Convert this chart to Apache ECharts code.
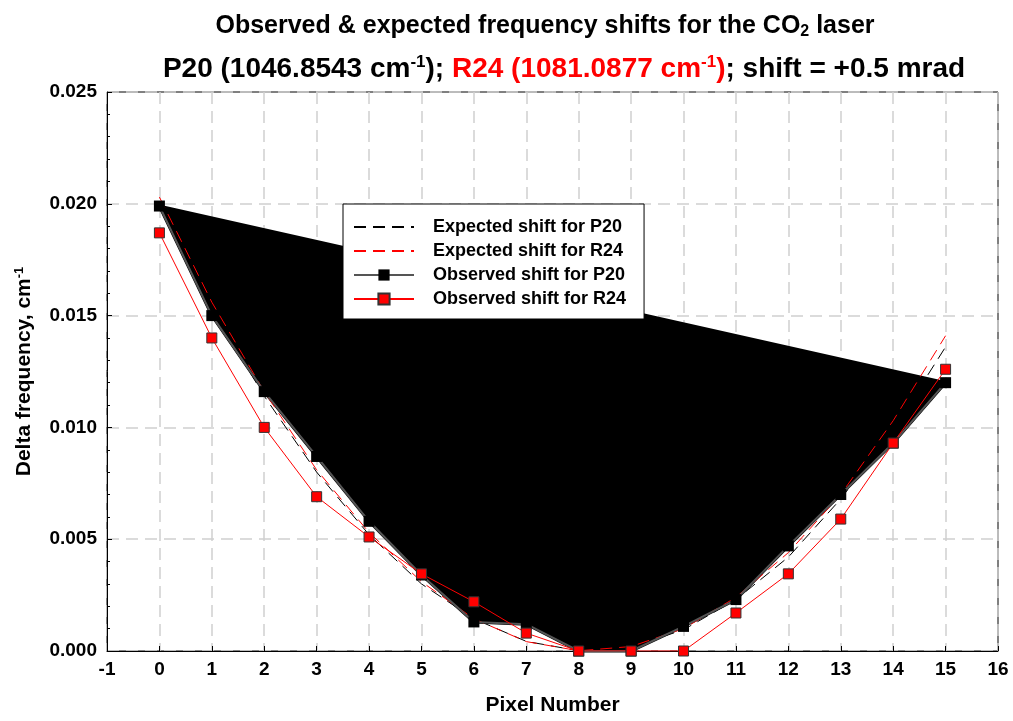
<!DOCTYPE html>
<html>
<head>
<meta charset="utf-8">
<script src="https://cdn.jsdelivr.net/npm/echarts@6/dist/echarts.min.js"></script>
<style>
  html, body { margin: 0; padding: 0; background: #fff; }
  #chart { width: 1013px; height: 721px; }
</style>
</head>
<body>
<div id="chart"></div>
<script>
// pixel numbers on the detector
const pixels = [0, 1, 2, 3, 4, 5, 6, 7, 8, 9, 10, 11, 12, 13, 14, 15];
// expected shifts (cm-1)
const expP20 = [0.0199, 0.0153, 0.0114, 0.0080, 0.0052, 0.0030, 0.00144, 0.00043, 0.00001, 0.00018, 0.00095, 0.0023, 0.0042, 0.0068, 0.0099, 0.0136];
const expR24 = [0.0203, 0.0156, 0.0116, 0.0081, 0.0053, 0.0031, 0.00144, 0.00042, 0.00001, 0.0002, 0.0010, 0.0024, 0.0044, 0.0070, 0.0103, 0.0141];
// observed shifts (cm-1)
const obsP20 = [0.0199, 0.0150, 0.0116, 0.0087, 0.0058, 0.0034, 0.0013, 0.0012, 0.0, 0.0, 0.0011, 0.0023, 0.0047, 0.0070, 0.0093, 0.0120];
const obsR24 = [0.0187, 0.0140, 0.0100, 0.0069, 0.0051, 0.00345, 0.0022, 0.0008, 0.0, 0.0, 0.0, 0.0017, 0.00345, 0.0059, 0.0093, 0.0126];

const xTicks = { min: -1, max: 16, step: 1 };
const yTicks = { min: 0, max: 0.025, step: 0.005 };

function pairs(ys) {
  return pixels.map((x, i) => [x, ys[i]]);
}

const chart = echarts.init(document.getElementById('chart'));
const font = 'Liberation Sans, Arial, sans-serif';

chart.setOption({
  animation: false,
  title: [{
    text: '{a|Observed & expected frequency shifts for the CO}{sub|2}{a| laser}',
    left: 540,
    top: 7,
    textAlign: 'center',
    textStyle: {
      rich: {
        a: { fontFamily: font, fontWeight: 'bold', fontSize: 25, color: '#000' },
        sub: { fontFamily: font, fontWeight: 'bold', fontSize: 16, color: '#000', verticalAlign: 'bottom', padding: [12, 0, 0, 0] }
      }
    }
  }, {
    text: '{a|P20 (1046.8543 cm}{sup|-1}{a|); }{r|R24 (1081.0877 cm}{rsup|-1}{r|)}{a|; shift = +0.5 mrad}',
    left: 559,
    top: 49,
    textAlign: 'center',
    textStyle: {
      rich: {
        a: { fontFamily: font, fontWeight: 'bold', fontSize: 28, color: '#000' },
        sup: { fontFamily: font, fontWeight: 'bold', fontSize: 17, color: '#000', verticalAlign: 'top', padding: [0, 0, 13, 0] },
        r: { fontFamily: font, fontWeight: 'bold', fontSize: 28, color: '#ff0000' },
        rsup: { fontFamily: font, fontWeight: 'bold', fontSize: 17, color: '#ff0000', verticalAlign: 'top', padding: [0, 0, 13, 0] }
      }
    }
  }],
  legend: {
    orient: 'vertical',
    left: 343,
    top: 204,
    padding: [14, 18, 11, 10],
    itemWidth: 60,
    itemHeight: 14,
    itemGap: 6,
    backgroundColor: '#fff',
    borderColor: '#000',
    borderWidth: 1,
    textStyle: { fontFamily: font, fontWeight: 'bold', fontSize: 18, color: '#000', padding: [0, 0, 0, 14] },
    data: [
      { name: 'Expected shift for P20', itemStyle: { opacity: 0 } },
      { name: 'Expected shift for R24', itemStyle: { opacity: 0 } },
      'Observed shift for P20',
      'Observed shift for R24'
    ]
  },
  grid: {
    left: 107,
    right: 15,
    top: 92,
    bottom: 70,
    show: true,
    borderColor: '#000',
    borderWidth: 1
  },
  xAxis: {
    type: 'value',
    min: xTicks.min,
    max: xTicks.max,
    interval: xTicks.step,
    name: 'Pixel Number',
    nameLocation: 'middle',
    nameGap: 44,
    nameTextStyle: { fontFamily: font, fontWeight: 'bold', fontSize: 21, color: '#000' },
    axisLine: { onZero: false, lineStyle: { color: '#000', width: 1 } },
    axisTick: { inside: true, length: 5, lineStyle: { color: '#000' } },
    axisLabel: { margin: 9, fontFamily: font, fontWeight: 'bold', fontSize: 19, color: '#000' },
    splitLine: { show: true, lineStyle: { color: '#d0d0d0', type: [12, 7], width: 1.5 } }
  },
  yAxis: {
    type: 'value',
    min: yTicks.min,
    max: yTicks.max,
    interval: yTicks.step,
    name: '{n|Delta frequency, cm}{s|-1}',
    nameLocation: 'middle',
    nameGap: 71,
    nameTextStyle: {
      rich: {
        n: { fontFamily: font, fontWeight: 'bold', fontSize: 21, color: '#000' },
        s: { fontFamily: font, fontWeight: 'bold', fontSize: 13, color: '#000', verticalAlign: 'top', padding: [0, 0, 10, 0] }
      }
    },
    axisLine: { show: true, onZero: false, lineStyle: { color: '#000', width: 1 } },
    axisTick: { inside: true, length: 5, lineStyle: { color: '#000' } },
    minorTick: { show: true, splitNumber: 5, length: 3, lineStyle: { color: '#000' } },
    axisLabel: {
      margin: 10,
      fontFamily: font, fontWeight: 'bold', fontSize: 19, color: '#000',
      formatter: v => v.toFixed(3)
    },
    splitLine: { show: true, lineStyle: { color: '#d0d0d0', type: [12, 7], width: 1.5 } }
  },
  series: [{
    name: 'Expected shift for P20',
    type: 'line',
    data: pairs(expP20),
    symbol: 'none',
    lineStyle: { color: '#000', width: 1, type: [12, 7] },
    itemStyle: { color: '#000' }
  }, {
    name: 'Expected shift for R24',
    type: 'line',
    data: pairs(expR24),
    symbol: 'none',
    lineStyle: { color: '#ff0000', width: 1, type: [12, 7] },
    itemStyle: { color: '#ff0000' }
  }, {
    name: 'Observed shift for P20',
    type: 'line',
    data: pairs(obsP20),
    symbol: 'rect',
    symbolSize: 11,
    lineStyle: { color: '#555', width: 2 },
    itemStyle: { color: '#000' }
  }, {
    // closed black area of the observed P20 trace, drawn over its line
    name: 'fill',
    type: 'custom',
    silent: true,
    data: [[0, 0]],
    renderItem: (params, api) => {
      const pts = pixels.map((x, i) => api.coord([x, obsP20[i]]));
      return {
        type: 'polygon',
        shape: { points: pts },
        style: { fill: '#000', stroke: '#000', lineWidth: 3 }
      };
    }
  }, {
    name: 'Observed shift for R24',
    type: 'line',
    data: pairs(obsR24),
    symbol: 'rect',
    symbolSize: 10,
    lineStyle: { color: '#ff0000', width: 1 },
    itemStyle: { color: '#ff0000', borderColor: '#333', borderWidth: 1 }
  }]
});
</script>
</body>
</html>
